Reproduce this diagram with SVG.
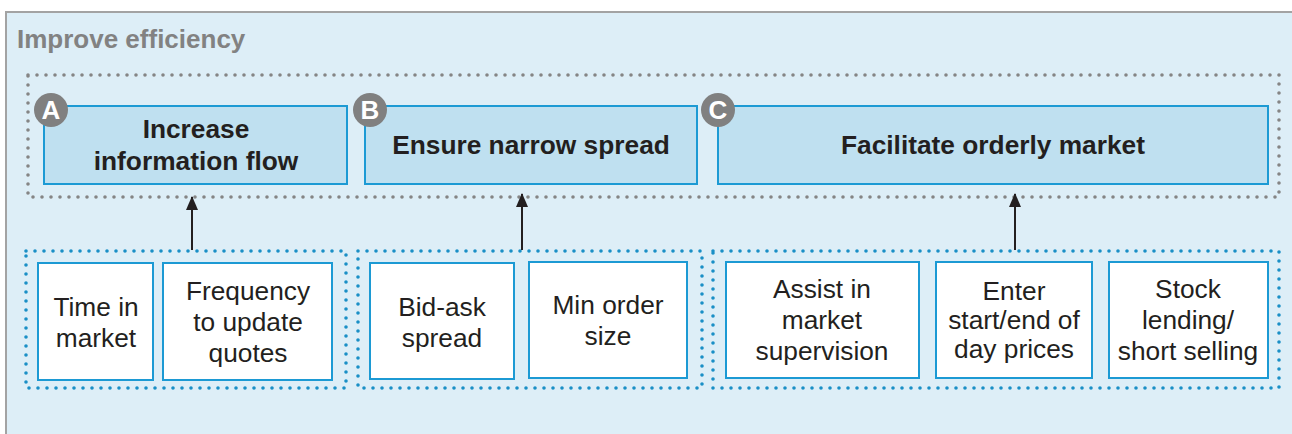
<svg xmlns="http://www.w3.org/2000/svg" width="1292" height="434" viewBox="0 0 1292 434">
  <style>
    .frame { fill: #ddeef7; stroke: #a3a3a3; stroke-width: 2; }
    .title { font-family: "Liberation Sans", Arial, sans-serif; font-weight: bold; font-size: 26px; fill: #828282; }
    .zone-gray { fill: none; stroke: #858585; stroke-width: 3.6; stroke-linecap: round; stroke-dasharray: 0 9; }
    .zone-blue { fill: none; stroke: #1a8fc6; stroke-width: 3.6; stroke-linecap: round; stroke-dasharray: 0 9; }
    .goal { fill: #bfe0f0; stroke: #1c9ad4; stroke-width: 2; }
    .goal-text { font-family: "Liberation Sans", Arial, sans-serif; font-weight: bold; font-size: 26.3px; fill: #231f20; text-anchor: middle; }
    .badge { fill: #808080; }
    .badge-text { font-family: "Liberation Sans", Arial, sans-serif; font-weight: bold; font-size: 26px; fill: #ffffff; text-anchor: middle; }
    .lever { fill: #ffffff; stroke: #1c9ad4; stroke-width: 2; }
    .lever-text { font-family: "Liberation Sans", Arial, sans-serif; font-size: 26.3px; fill: #231f20; text-anchor: middle; }
    .link { stroke: #231f20; stroke-width: 2; fill: none; marker-end: url(#arrow); }
  </style>
  <defs>
    <marker id="arrow" viewBox="0 0 14 12" refX="13" refY="6" markerWidth="14" markerHeight="12" markerUnits="userSpaceOnUse" orient="auto">
      <path d="M0,0 L14,6 L0,12 Z" fill="#231f20"/>
    </marker>
  </defs>

  <!-- outer panel -->
  <rect class="frame" x="6" y="12" width="1300" height="440"/>
  <text class="title" x="17" y="48">Improve efficiency</text>

  <!-- dotted grouping zones -->
  <g id="zones">
    <rect class="zone-gray" x="28" y="75" width="1251" height="122"/>
    <rect class="zone-blue" x="26" y="251" width="320" height="137"/>
    <rect class="zone-blue" x="358" y="251" width="344" height="137"/>
    <rect class="zone-blue" x="713" y="251" width="566" height="137"/>
  </g>

  <!-- objectives -->
  <g id="goal-a">
    <rect class="goal" x="44" y="106" width="303" height="78"/>
    <text class="goal-text" x="196" y="138">Increase</text>
    <text class="goal-text" x="196" y="170">information flow</text>
    <circle class="badge" cx="51" cy="110" r="17"/>
    <text class="badge-text" x="51" y="119">A</text>
  </g>
  <g id="goal-b">
    <rect class="goal" x="365" y="106" width="332" height="78"/>
    <text class="goal-text" x="531" y="154">Ensure narrow spread</text>
    <circle class="badge" cx="370" cy="110" r="17"/>
    <text class="badge-text" x="370" y="119">B</text>
  </g>
  <g id="goal-c">
    <rect class="goal" x="718" y="106" width="550" height="78"/>
    <text class="goal-text" x="993" y="154">Facilitate orderly market</text>
    <circle class="badge" cx="718" cy="110" r="17"/>
    <text class="badge-text" x="718" y="119">C</text>
  </g>

  <!-- levers -->
  <g id="lever-time">
    <rect class="lever" x="38" y="263" width="115" height="117"/>
    <text class="lever-text" x="96" y="316">Time in</text>
    <text class="lever-text" x="96" y="347">market</text>
  </g>
  <g id="lever-frequency">
    <rect class="lever" x="163" y="263" width="169" height="117"/>
    <text class="lever-text" x="248" y="300">Frequency</text>
    <text class="lever-text" x="248" y="331">to update</text>
    <text class="lever-text" x="248" y="362">quotes</text>
  </g>
  <g id="lever-bidask">
    <rect class="lever" x="370" y="263" width="144" height="116"/>
    <text class="lever-text" x="442" y="316">Bid-ask</text>
    <text class="lever-text" x="442" y="347">spread</text>
  </g>
  <g id="lever-minorder">
    <rect class="lever" x="529" y="262" width="158" height="116"/>
    <text class="lever-text" x="608" y="314">Min order</text>
    <text class="lever-text" x="608" y="345">size</text>
  </g>
  <g id="lever-supervision">
    <rect class="lever" x="726" y="262" width="193" height="116"/>
    <text class="lever-text" x="822" y="298">Assist in</text>
    <text class="lever-text" x="822" y="329">market</text>
    <text class="lever-text" x="822" y="360">supervision</text>
  </g>
  <g id="lever-prices">
    <rect class="lever" x="936" y="262" width="156" height="116"/>
    <text class="lever-text" x="1014" y="300">Enter</text>
    <text class="lever-text" x="1014" y="329">start/end of</text>
    <text class="lever-text" x="1014" y="358">day prices</text>
  </g>
  <g id="lever-lending">
    <rect class="lever" x="1109" y="262" width="159" height="116"/>
    <text class="lever-text" x="1188" y="298">Stock</text>
    <text class="lever-text" x="1188" y="329">lending/</text>
    <text class="lever-text" x="1188" y="360">short selling</text>
  </g>

  <!-- connectors -->
  <g id="connectors">
    <path class="link" d="M192,250 V197"/>
    <path class="link" d="M522,250 V194"/>
    <path class="link" d="M1015,250 V194"/>
  </g>
</svg>
